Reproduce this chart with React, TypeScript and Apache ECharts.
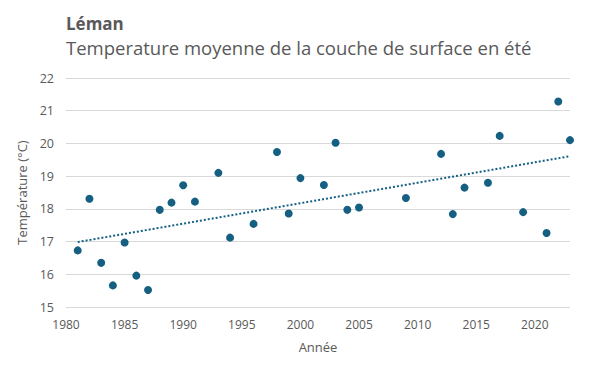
import React, { useEffect, useRef } from "react";
import * as echarts from "echarts";

const years: number[] = [
  1981, 1982, 1983, 1984, 1985, 1986, 1987, 1988, 1989, 1990, 1991,
  1993, 1994, 1996, 1998, 1999, 2000, 2002, 2003, 2004, 2005,
  2009, 2012, 2013, 2014, 2016, 2017, 2019, 2021, 2022, 2023,
];
const temps: number[] = [
  16.73, 18.31, 16.35, 15.66, 16.97, 15.96, 15.52, 17.97, 18.19, 18.72, 18.22,
  19.1, 17.12, 17.54, 19.74, 17.86, 18.94, 18.73, 20.02, 17.97, 18.04,
  18.33, 19.68, 17.84, 18.65, 18.8, 20.23, 17.9, 17.26, 21.28, 20.1,
];
const titleText = "Léman";
const subtitleText = "Temperature moyenne de la couche de surface en été";
const xName = "Année";
const yName = "Température (°C)";

const FONT = "'Open Sans', sans-serif";
const GREY = "#595959";
const BLUE = "#156082";

function linearFit(xs: number[], ys: number[]) {
  const n = xs.length;
  const mx = xs.reduce((a, b) => a + b, 0) / n;
  const my = ys.reduce((a, b) => a + b, 0) / n;
  let sxy = 0;
  let sxx = 0;
  for (let i = 0; i < n; i++) {
    sxy += (xs[i] - mx) * (ys[i] - my);
    sxx += (xs[i] - mx) * (xs[i] - mx);
  }
  const b = sxy / sxx;
  const a = my - b * mx;
  return (x: number) => a + b * x;
}

export default function App() {
  const ref = useRef<HTMLDivElement>(null);
  useEffect(() => {
    if (!ref.current) return;
    const chart = echarts.init(ref.current, null, { renderer: "svg" });
    const fit = linearFit(years, temps);
    const x0 = years[0];
    const x1 = years[years.length - 1];
    chart.setOption({
      animation: false,
      backgroundColor: "#ffffff",
      textStyle: { fontFamily: FONT },
      title: [
        {
          text: titleText,
          left: 66,
          top: 15,
          padding: 0,
          textStyle: { fontFamily: FONT, fontSize: 17, fontWeight: "bold", color: GREY },
        },
        {
          text: subtitleText,
          left: 66,
          top: 38,
          padding: 0,
          textStyle: { fontFamily: FONT, fontSize: 18.5, fontWeight: "normal", color: GREY },
        },
      ],
      grid: { left: 66, right: 30, top: 78, bottom: 65, containLabel: false },
      xAxis: {
        type: "value",
        min: 1980,
        max: 2023,
        interval: 5,
        name: xName,
        nameLocation: "middle",
        nameGap: 33,
        nameTextStyle: { fontFamily: FONT, fontSize: 13, color: GREY },
        axisLine: { show: false },
        axisTick: { show: false },
        splitLine: { show: false },
        axisLabel: {
          color: GREY,
          fontFamily: FONT,
          fontSize: 12,
          margin: 11,
          showMaxLabel: false,
          formatter: (v: number) => String(v),
        },
      },
      yAxis: {
        type: "value",
        min: 15,
        max: 22,
        interval: 1,
        name: yName,
        nameLocation: "middle",
        nameGap: 36,
        nameRotate: 90,
        nameTextStyle: { fontFamily: FONT, fontSize: 13, color: GREY },
        axisLine: { show: false },
        axisTick: { show: false },
        splitLine: { show: true, lineStyle: { color: "#d9d9d9", width: 1 } },
        axisLabel: { color: GREY, fontFamily: FONT, fontSize: 12.5, margin: 12 },
      },
      series: [
        {
          type: "line",
          data: [
            [x0, fit(x0)],
            [x1, fit(x1)],
          ],
          showSymbol: false,
          symbol: "none",
          lineStyle: { color: BLUE, width: 2, type: [2, 2] },
          z: 1,
        },
        {
          type: "scatter",
          data: years.map((y, i) => [y, temps[i]]),
          symbol: "circle",
          symbolSize: 8,
          itemStyle: { color: BLUE, opacity: 1 },
          z: 2,
        },
      ],
    });
    return () => chart.dispose();
  }, []);
  return <div ref={ref} style={{ width: 600, height: 372, margin: -8 }} />;
}
